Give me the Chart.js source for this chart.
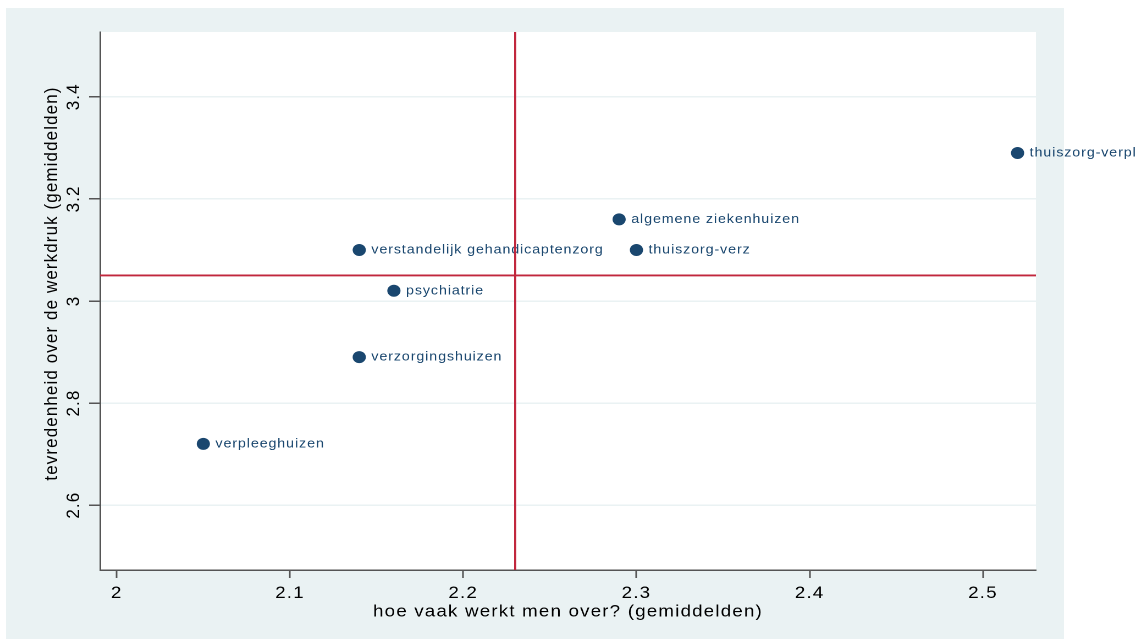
<!DOCTYPE html>
<html lang="nl">
<head>
<meta charset="UTF-8">
<title>Werkdruk en overwerk</title>
<script src="https://cdn.jsdelivr.net/npm/chart.js@4"></script>
<style>
  html, body { margin: 0; padding: 0; background: #fff; overflow: hidden; }
  /* the original graph is slightly stretched sideways, so draw narrower and stretch */
  #wrap { width: 1033px; height: 639px; transform: scaleX(1.09971); transform-origin: 0 0; }
</style>
</head>
<body>
<div id="wrap"><canvas id="chart" width="1033" height="639"></canvas></div>
<script>
const categories = ['verpleeghuizen', 'verzorgingshuizen', 'psychiatrie', 'verstandelijk gehandicaptenzorg',
                    'algemene ziekenhuizen', 'thuiszorg-verz', 'thuiszorg-verpl'];
const overwerk = [2.05, 2.14, 2.16, 2.14, 2.29, 2.30, 2.52];
const tevredenheid = [2.72, 2.89, 3.02, 3.10, 3.16, 3.10, 3.29];

const xTicks = [2, 2.1, 2.2, 2.3, 2.4, 2.5];
const xTickLabels = ['2', '2.1', '2.2', '2.3', '2.4', '2.5'];
const yTicks = [2.6, 2.8, 3, 3.2, 3.4];
const yTickLabels = ['2.6', '2.8', '3', '3.2', '3.4'];

const xMin = 1.9904, xMax = 2.5306;
const yMin = 2.473, yMax = 3.527;
const refX = 2.23;
const refY = 3.05;

const xTitle = 'hoe vaak werkt men over? (gemiddelden)';
const yTitle = 'tevredenheid over de werkdruk (gemiddelden)';

const navy = '#1a476f';
const red = '#c1273d';
const axisColor = '#555555';
const fontFamily = '"Liberation Sans", Arial, sans-serif';

const background = {
    id: 'background',
    afterInit(chart) {
        // Stata spaces its letters a little wider
        chart.ctx.letterSpacing = '1.1px';
    },
    beforeDraw(chart) {
        const {ctx, chartArea: a} = chart;
        ctx.save();
        ctx.fillStyle = '#ffffff';
        ctx.fillRect(0, 0, chart.width, chart.height);
        ctx.fillStyle = '#eaf2f3';
        ctx.fillRect(5.5, 8, 962, chart.height - 8);
        ctx.fillStyle = '#ffffff';
        ctx.fillRect(a.left, a.top, a.right - a.left, a.bottom - a.top);
        ctx.restore();
    }
};

// marker labels, drawn right after the scatter so the red lines cover them
const pointLabels = {
    id: 'pointLabels',
    afterDatasetDraw(chart, args) {
        if (args.index !== 2) return;
        const ctx = chart.ctx;
        ctx.save();
        ctx.font = '13px ' + fontFamily;
        ctx.letterSpacing = '0.8px';
        ctx.fillStyle = navy;
        ctx.textBaseline = 'middle';
        args.meta.data.forEach((pt, i) => ctx.fillText(categories[i], pt.x + 11, pt.y));
        ctx.restore();
    }
};

new Chart(document.getElementById('chart'), {
    type: 'scatter',
    data: {
        datasets: [
            {
                type: 'line',
                data: [{x: refX, y: yMin}, {x: refX, y: yMax}],
                borderColor: red,
                borderWidth: 1.9,
                pointRadius: 0
            },
            {
                type: 'line',
                data: [{x: xMin, y: refY}, {x: xMax, y: refY}],
                borderColor: red,
                borderWidth: 1.9,
                pointRadius: 0
            },
            {
                data: overwerk.map((x, i) => ({x: x, y: tevredenheid[i]})),
                backgroundColor: navy,
                borderWidth: 0,
                pointRadius: 6
            }
        ]
    },
    options: {
        responsive: false,
        devicePixelRatio: 2,
        animation: false,
        events: [],
        layout: { padding: { left: 0, top: 32, right: 91, bottom: 0 } },
        plugins: {
            legend: { display: false },
            tooltip: { enabled: false }
        },
        scales: {
            x: {
                type: 'linear',
                min: xMin,
                max: xMax,
                afterBuildTicks: s => { s.ticks = xTicks.map(v => ({value: v})); },
                afterFit: s => { s.height = 69; },
                grid: { drawOnChartArea: false, tickLength: 8, tickColor: axisColor, tickWidth: 1.5 },
                border: { color: axisColor, width: 1.5 },
                ticks: {
                    padding: 5,
                    color: '#000',
                    autoSkip: false,
                    maxRotation: 0,
                    font: { family: fontFamily, size: 17 },
                    callback: (v, i) => xTickLabels[i]
                },
                title: {
                    display: true,
                    text: xTitle,
                    color: '#000',
                    font: { family: fontFamily, size: 17 },
                    padding: { top: 0, bottom: 17 }
                }
            },
            y: {
                type: 'linear',
                min: yMin,
                max: yMax,
                afterBuildTicks: s => { s.ticks = yTicks.map(v => ({value: v})); },
                afterFit: s => { s.width = 91; },
                grid: { color: '#eaf2f3', lineWidth: 1.5, tickLength: 10, tickColor: axisColor, tickWidth: 1.5 },
                border: { color: axisColor, width: 1.5 },
                ticks: {
                    padding: 0,
                    crossAlign: 'center',
                    minRotation: 90,
                    maxRotation: 90,
                    autoSkip: false,
                    color: '#000',
                    font: { family: fontFamily, size: 17 },
                    callback: (v, i) => yTickLabels[i]
                },
                title: {
                    display: true,
                    // leading spaces lift the title a little, as in the original
                    text: '      ' + yTitle,
                    color: '#000',
                    font: { family: fontFamily, size: 17 },
                    padding: { top: 37, bottom: 0 }
                }
            }
        }
    },
    plugins: [background, pointLabels]
});
</script>
</body>
</html>
